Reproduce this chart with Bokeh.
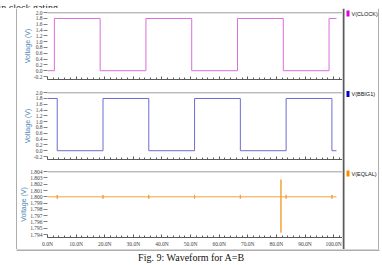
from bokeh.plotting import figure
from bokeh.models import (Range1d, Span, FixedTicker, SingleIntervalTicker,
                          NumeralTickFormatter, PrintfTickFormatter, Spacer)
from bokeh.layouts import column, row
from bokeh.embed import file_html
from bokeh.resources import INLINE
from bokeh.core.properties import value

# ---------------- data ----------------
clock_t = [0, 2.4, 2.4, 18.4, 18.4, 34.4, 34.4, 50.4, 50.4, 66.4, 66.4, 82.4, 82.4, 98.4, 98.4, 101.0]
clock_v = [0, 0, 1.8, 1.8, 0, 0, 1.8, 1.8, 0, 0, 1.8, 1.8, 0, 0, 1.8, 1.8]

bbig1_t = [0, 3.4, 3.4, 19.4, 19.4, 35.4, 35.4, 51.4, 51.4, 67.4, 67.4, 83.4, 83.4, 99.4, 99.4, 101.0]
bbig1_v = [1.8, 1.8, 0, 0, 1.8, 1.8, 0, 0, 1.8, 1.8, 0, 0, 1.8, 1.8, 0, 0]

eqlal_t = [0,
           3.4, 3.4, 3.4, 3.4,
           19.4, 19.4, 19.4, 19.4,
           35.4, 35.4, 35.4, 35.4,
           51.4, 51.4, 51.4, 51.4,
           67.4, 67.4, 67.4, 67.4,
           81.6, 81.6, 81.6, 81.6,
           83.4, 83.4, 83.4, 83.4,
           99.4, 99.4, 99.4, 99.4,
           101.0]
eqlal_v = [1.8,
           1.8, 1.8003, 1.7997, 1.8,
           1.8, 1.8003, 1.7997, 1.8,
           1.8, 1.8003, 1.7997, 1.8,
           1.8, 1.8003, 1.7997, 1.8,
           1.8, 1.8003, 1.7997, 1.8,
           1.8, 1.80275, 1.79431, 1.8,
           1.8, 1.8003, 1.7997, 1.8,
           1.8, 1.8003, 1.7997, 1.8,
           1.8]

volt_ticks = [-0.2, 0.0, 0.2, 0.4, 0.6, 0.8, 1.0, 1.2, 1.4, 1.6, 1.8, 2.0]
eq_ticks = [1.794, 1.795, 1.796, 1.797, 1.798, 1.799, 1.800, 1.801, 1.802, 1.803, 1.804]

legend_labels = ["V(CLOCK)", "V(BBIG1)", "V(EQLAL)"]
legend_colors = ["#E000E0", "#0000D0", "#FF8A00"]
line_colors = ["#DA6EDA", "#6C6CD2", "#F2A23C"]

caption = "Fig. 9: Waveform for A=B"
top_text = "in clock gating."

FRAME = "#5a5a5a"
SERIF = "Liberation Serif"
SANS = "Liberation Sans"


def blank(w, h, xr, yr):
    p = figure(width=w, height=h, x_range=Range1d(*xr), y_range=Range1d(*yr),
               output_backend="svg", toolbar_location=None,
               x_axis_type=None, y_axis_type=None, min_border=0)
    p.outline_line_color = None
    p.grid.visible = False
    return p


def panel(height, yr, ticks, fmt, top_val, b_top, b_bottom, labels):
    p = figure(width=325, height=height, x_range=Range1d(0, 103.1),
               y_range=Range1d(*yr), output_backend="svg", toolbar_location=None,
               min_border_left=25, min_border_right=0,
               min_border_top=b_top, min_border_bottom=b_bottom)
    p.grid.visible = False
    p.outline_line_color = None
    yax = p.yaxis[0]
    yax.ticker = FixedTicker(ticks=ticks)
    yax.formatter = NumeralTickFormatter(format=fmt)
    yax.axis_line_color = None
    yax.major_tick_out = 4
    yax.major_tick_in = 0
    yax.minor_tick_out = 0
    yax.minor_tick_in = 0
    yax.major_tick_line_color = "#808080"
    yax.major_label_text_font = SERIF
    yax.major_label_text_font_size = "5.5px"
    yax.major_label_standoff = 1
    yax.axis_label = "Voltage (V)"
    yax.axis_label_text_font = SANS
    yax.axis_label_text_font_size = "7px"
    yax.axis_label_text_font_style = "normal"
    yax.axis_label_text_color = "#4F88B6"
    yax.axis_label_standoff = 0

    xax = p.xaxis[0]
    xax.ticker = SingleIntervalTicker(interval=10, num_minor_ticks=5)
    xax.formatter = PrintfTickFormatter(format="%.1fN")
    xax.axis_line_color = FRAME
    xax.major_tick_in = 3
    xax.major_tick_out = 0
    xax.minor_tick_in = 2
    xax.minor_tick_out = 0
    xax.major_tick_line_color = FRAME
    xax.minor_tick_line_color = FRAME
    xax.major_label_text_font = SERIF
    xax.major_label_text_font_size = "5.5px"
    if labels:
        xax.major_label_standoff = 3
    else:
        # the upper panels show ticks only, no time labels
        xax.major_label_text_color = None
        xax.major_label_standoff = 0
    p.add_layout(Span(location=top_val, dimension="width", line_color=FRAME, line_width=1))
    return p


f1 = panel(80, (-0.303, 2.006), volt_ticks, "0.0", 2.0, 4, 9, False)
f1.line(clock_t, clock_v, line_color=line_colors[0], line_width=1)

f2 = panel(80, (-0.303, 2.006), volt_ticks, "0.0", 2.0, 4, 9, False)
f2.line(bbig1_t, bbig1_v, line_color=line_colors[1], line_width=1)

f3 = panel(81, (1.79353, 1.80403), eq_ticks, "0.000", 1.804, 3, 11, True)
f3.line(eqlal_t, eqlal_v, line_color=line_colors[2], line_width=1)

# top strip: clipped sentence of the page text + top border of the frame
top = blank(382, 8, (0, 382), (8, 0))
top.text(x=[-2], y=[3], text=[top_text], text_font=value(SERIF), text_font_size="10px",
         text_color="#222222", text_baseline="alphabetic")
top.line([16, 379], [7.5, 7.5], line_color="#8a8a8a", line_width=1)

# left strip with the left border
left = blank(17, 241, (0, 17), (241, 0))
left.line([16.5, 16.5], [0, 241], line_color=FRAME, line_width=1)

# legend strip
leg = blank(37, 241, (0, 37), (241, 0))
leg.line([1, 1], [0, 241], line_color=FRAME, line_width=2)
leg.line([36.5, 36.5], [0, 241], line_color=FRAME, line_width=1)
leg.rect(x=[5.5, 5.5, 5.5], y=[5, 85.5, 165], width=3, height=6, fill_color=legend_colors,
         line_color=None)
leg.text(x=[9, 9, 9], y=[5, 85.5, 165], text=legend_labels, text_font=value(SANS),
         text_font_size="5.5px", text_color="#111111", text_baseline="middle")

# bottom strip: bottom border + caption
bot = blank(382, 16, (0, 382), (16, 0))
bot.line([16, 379], [0.5, 0.5], line_color=FRAME, line_width=1)
bot.text(x=[191], y=[7.5], text=[caption], text_font=value(SERIF), text_font_size="10px",
         text_color="#111111", text_align="center", text_baseline="middle")

layout = column(top,
                row(left, column(f1, f2, f3), leg, Spacer(width=3, height=241)),
                bot)

open("out.html", "w").write(file_html(layout, INLINE))
